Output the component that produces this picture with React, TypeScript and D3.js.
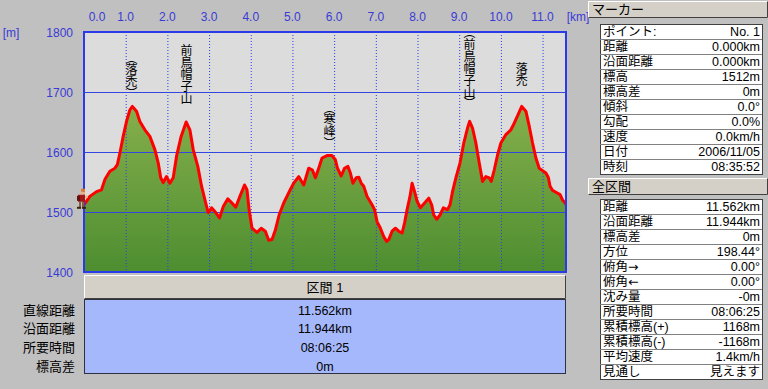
import React from 'react';
import * as d3 from 'd3';

// elevation profile (km along route, metres)
const distKm = [
  0, 0.14, 0.30, 0.42, 0.50, 0.62, 0.74, 0.80, 0.86, 0.94,
  1.02, 1.10, 1.16, 1.26, 1.34, 1.46, 1.58, 1.70, 1.78, 1.84,
  1.90, 1.98, 2.06, 2.14, 2.22, 2.33, 2.45, 2.54, 2.62, 2.73,
  2.82, 2.92, 2.98, 3.06, 3.16, 3.25, 3.34, 3.45, 3.55, 3.64,
  3.74, 3.85, 3.91, 3.96, 4.03, 4.15, 4.25, 4.35, 4.43, 4.51,
  4.59, 4.68, 4.79, 4.91, 5.03, 5.15, 5.27, 5.39, 5.48, 5.55,
  5.63, 5.71, 5.83, 5.95, 6.03, 6.08, 6.17, 6.25, 6.33, 6.39,
  6.45, 6.53, 6.59, 6.65, 6.71, 6.79, 6.91, 6.97, 7.03, 7.11,
  7.19, 7.26, 7.31, 7.39, 7.47, 7.55, 7.63, 7.69, 7.75, 7.82,
  7.87, 7.93, 7.99, 8.07, 8.17, 8.27, 8.34, 8.39, 8.46, 8.54,
  8.62, 8.72, 8.78, 8.84, 8.92, 9.02, 9.11, 9.20, 9.25, 9.32,
  9.40, 9.48, 9.56, 9.64, 9.72, 9.77, 9.84, 9.92, 10.00, 10.12,
  10.24, 10.32, 10.41, 10.50, 10.60, 10.68, 10.76, 10.84, 10.92, 11.00,
  11.08, 11.14, 11.18, 11.24, 11.32, 11.42, 11.48, 11.54, 11.562
];
const elevM = [
  1512, 1526, 1534, 1537, 1554, 1568, 1573, 1579, 1598, 1626,
  1651, 1670, 1676, 1668, 1651, 1637, 1626, 1604, 1582, 1557,
  1549, 1559, 1548, 1557, 1593, 1626, 1650, 1637, 1604, 1576,
  1543, 1515, 1499, 1507, 1499, 1490, 1509, 1522, 1515, 1508,
  1526, 1545, 1537, 1504, 1473, 1466, 1473, 1468, 1453, 1454,
  1470, 1495, 1515, 1532, 1548, 1559, 1545, 1573, 1570, 1557,
  1573, 1590, 1594, 1594, 1587, 1573, 1560, 1573, 1576, 1565,
  1548, 1557, 1558, 1548, 1543, 1526, 1512, 1504, 1484, 1473,
  1459, 1451, 1454, 1468, 1473, 1468, 1465, 1482, 1504, 1526,
  1548, 1534, 1518, 1507, 1515, 1523, 1512, 1495, 1488, 1495,
  1507, 1504, 1512, 1534, 1557, 1582, 1615, 1640, 1651, 1640,
  1615, 1582, 1551, 1559, 1557, 1551, 1570, 1595, 1615, 1629,
  1637, 1648, 1662, 1676, 1668, 1643, 1615, 1590, 1573, 1569,
  1565, 1557, 1543, 1536, 1533, 1529, 1520, 1515, 1512
];

const xTicks = [0, 1, 2, 3, 4, 5, 6, 7, 8, 9, 10, 11];
const yTicks = [1400, 1500, 1600, 1700, 1800];

// peak names, written vertically; top given in metres on the y scale
const peakNames = ['（落禿）', '前鳥帽子山', '（寒峰）', '（前鳥帽子山）', '落禿'];
const peakKm = [1.14, 2.46, 5.89, 9.25, 10.50];
const peakTop = [1757, 1779, 1674, 1800, 1750];

const markerLabels = ['ポイント:', '距離', '沿面距離', '標高', '標高差', '傾斜', '勾配', '速度', '日付', '時刻'];
const markerValues = ['No. 1', '0.000km', '0.000km', '1512m', '0m', '0.0°', '0.0%', '0.0km/h', '2006/11/05', '08:35:52'];

const totalLabels = ['距離', '沿面距離', '標高差', '方位', '俯角→', '俯角←', '沈み量', '所要時間', '累積標高(+)', '累積標高(-)', '平均速度', '見通し'];
const totalValues = ['11.562km', '11.944km', '0m', '198.44°', '0.00°', '0.00°', '-0m', '08:06:25', '1168m', '-1168m', '1.4km/h', '見えます'];

const sectionTitle = '区間 1';
const sectionLabels = ['直線距離', '沿面距離', '所要時間', '標高差'];
const sectionValues = ['11.562km', '11.944km', '08:06:25', '0m'];

const W = 768, H = 389;
const plot = { left: 84, right: 566, top: 32, bottom: 272 };
const jp = "'Noto Sans CJK JP', sans-serif";
// Latin first keeps line boxes compact, kanji fall back to Noto CJK
const ui = "'Liberation Sans', 'Noto Sans CJK JP', sans-serif";
const axisFont = "'Liberation Sans', Arial, sans-serif";
const axisBlue = '#3a3ad6';

function Bevel({ x, y, w, h }) {
  return (
    <g>
      <rect x={x} y={y} width={w} height={h} fill="#d4d0c8" />
      <path d={`M${x + 0.5},${y + h - 0.5}V${y + 0.5}H${x + w - 0.5}`} stroke="#ffffff" fill="none" />
      <path d={`M${x + 0.5},${y + h - 0.5}H${x + w - 0.5}V${y + 0.5}`} stroke="#404040" fill="none" />
    </g>
  );
}

// arrows look tiny in Liberation, DejaVu draws them wider
function Label({ text }) {
  const m = text.match(/^(.*?)([→←])$/);
  if (!m) return <>{text}</>;
  return <>{m[1]}<tspan fontFamily="'DejaVu Sans'">{m[2]}</tspan></>;
}

function InfoTable({ x, y, w, labels, values }) {
  const rowH = 15;
  return (
    <g>
      <rect x={x + 0.5} y={y + 0.5} width={w} height={rowH * labels.length} fill="#ffffff" stroke="#404040" />
      {labels.map((l, i) => (
        <g key={l}>
          {i > 0 && <line x1={x} x2={x + w} y1={y + i * rowH + 0.5} y2={y + i * rowH + 0.5} stroke="#808080" />}
          <text x={x + 3} y={y + i * rowH + 12} fontSize={12.5} fontFamily={ui} fill="#000"><Label text={l} /></text>
          <text x={x + w - 2} y={y + i * rowH + 12} fontSize={12.5} fontFamily={ui} fill="#000" textAnchor="end">{values[i]}</text>
        </g>
      ))}
    </g>
  );
}

export default function App() {
  const x = d3.scaleLinear().domain([0, 11.562]).range([plot.left, plot.right]);
  const y = d3.scaleLinear().domain([1400, 1800]).range([plot.bottom, plot.top]);
  const pts = distKm.map((d, i) => [d, elevM[i]]);

  const area = d3.area().x(d => x(d[0])).y0(plot.bottom).y1(d => y(d[1]));
  const line = d3.line().x(d => x(d[0])).y(d => y(d[1]));

  const hx = x(0), hy = y(elevM[0]);

  return (
    <svg width={W} height={H} style={{ position: 'absolute', left: 0, top: 0 }}>
      <defs>
        <linearGradient id="fillGrad" gradientUnits="userSpaceOnUse" x1="0" y1={plot.top} x2="0" y2={plot.bottom}>
          <stop offset="0%" stopColor="#a0bd58" />
          <stop offset="100%" stopColor="#4d8e30" />
        </linearGradient>
        <clipPath id="plotClip">
          <rect x={plot.left} y={plot.top} width={plot.right - plot.left} height={plot.bottom - plot.top} />
        </clipPath>
      </defs>
      <rect width={W} height={H} fill="#c0c0c0" />

      {/* plot area */}
      <rect x={plot.left} y={plot.top} width={plot.right - plot.left} height={plot.bottom - plot.top} fill="#dcdcdc" />
      <path d={area(pts)} fill="url(#fillGrad)" clipPath="url(#plotClip)" />
      {xTicks.filter(t => t > 0).map(t => (
        <line key={t} x1={x(t) + 0.5} x2={x(t) + 0.5} y1={plot.top} y2={plot.bottom} stroke="#2d3cf0" strokeDasharray="1,2" />
      ))}
      {yTicks.filter(t => t > 1400 && t < 1800).map(t => (
        <line key={t} x1={plot.left} x2={plot.right} y1={y(t) + 0.5} y2={y(t) + 0.5} stroke="#3346e0" strokeWidth={1.2} />
      ))}
      <path d={line(pts)} fill="none" stroke="#ff0000" strokeWidth={3} strokeLinejoin="round" clipPath="url(#plotClip)" />
      <rect x={plot.left} y={plot.top} width={plot.right - plot.left} height={plot.bottom - plot.top} fill="none" stroke="#2a3ae8" strokeWidth={2} />

      {peakNames.map((n, i) => (
        <text key={i} x={x(peakKm[i])} y={y(peakTop[i])} fontSize={12} fontFamily={jp} fill="#000"
          style={{ writingMode: 'vertical-rl', fontFeatureSettings: '"vpal"' }}>
          {n}
        </text>
      ))}

      {/* hiker marker at the start point */}
      <g>
        <rect x={hx - 3} y={hy - 16} width={4} height={3} fill="#e07830" />
        <rect x={hx - 3} y={hy - 13} width={4} height={3} fill="#f0b080" />
        <rect x={hx - 6} y={hy - 10} width={7} height={7} fill="#a01818" />
        <rect x={hx - 7} y={hy - 9} width={3} height={5} fill="#601010" />
        <rect x={hx + 1} y={hy - 9} width={3} height={2} fill="#f0b080" />
        <rect x={hx - 5} y={hy - 3} width={2} height={6} fill="#806040" />
        <rect x={hx - 2} y={hy - 3} width={2} height={6} fill="#806040" />
        <rect x={hx - 7} y={hy + 2} width={4} height={2} fill="#402010" />
        <rect x={hx - 2} y={hy + 2} width={4} height={2} fill="#402010" />
      </g>

      {/* axes */}
      {xTicks.map(t => (
        <text key={t} x={Math.max(x(t), plot.left + 13)} y={21} textAnchor="middle" fontSize={12} fontFamily={axisFont} fill={axisBlue}>
          {t.toFixed(1)}
        </text>
      ))}
      <text x={578} y={21} textAnchor="middle" fontSize={12} fontFamily={axisFont} fill={axisBlue}>[km]</text>
      {yTicks.map(t => (
        <text key={t} x={73} y={y(t) + 4.5} textAnchor="end" fontSize={12} fontFamily={axisFont} fill={axisBlue}>{t}</text>
      ))}
      <text x={11} y={37} textAnchor="middle" fontSize={12} fontFamily={axisFont} fill={axisBlue}>[m]</text>

      {/* section summary */}
      <Bevel x={84} y={275} w={482} h={24} />
      <text x={325} y={292} textAnchor="middle" fontSize={13} fontFamily={ui} fill="#000">{sectionTitle}</text>
      <rect x={84.5} y={299.5} width={481} height={74} fill="#a6b8fc" stroke="#303040" />
      {sectionLabels.map((l, i) => (
        <g key={l}>
          <text x={75} y={314.5 + i * 18.7} textAnchor="end" fontSize={13} fontFamily={ui} fill="#000">{l}</text>
          <text x={325} y={314.5 + i * 18.7} textAnchor="middle" fontSize={12.5} fontFamily={ui} fill="#000">{sectionValues[i]}</text>
        </g>
      ))}

      {/* right panel */}
      <Bevel x={588} y={1} w={180} h={17} />
      <text x={592} y={14} fontSize={13} fontFamily={ui} fill="#000">マーカー</text>
      <InfoTable x={600} y={24} w={162} labels={markerLabels} values={markerValues} />
      <Bevel x={588} y={178} w={180} h={17} />
      <text x={592} y={191} fontSize={13} fontFamily={ui} fill="#000">全区間</text>
      <InfoTable x={600} y={199} w={162} labels={totalLabels} values={totalValues} />
    </svg>
  );
}
